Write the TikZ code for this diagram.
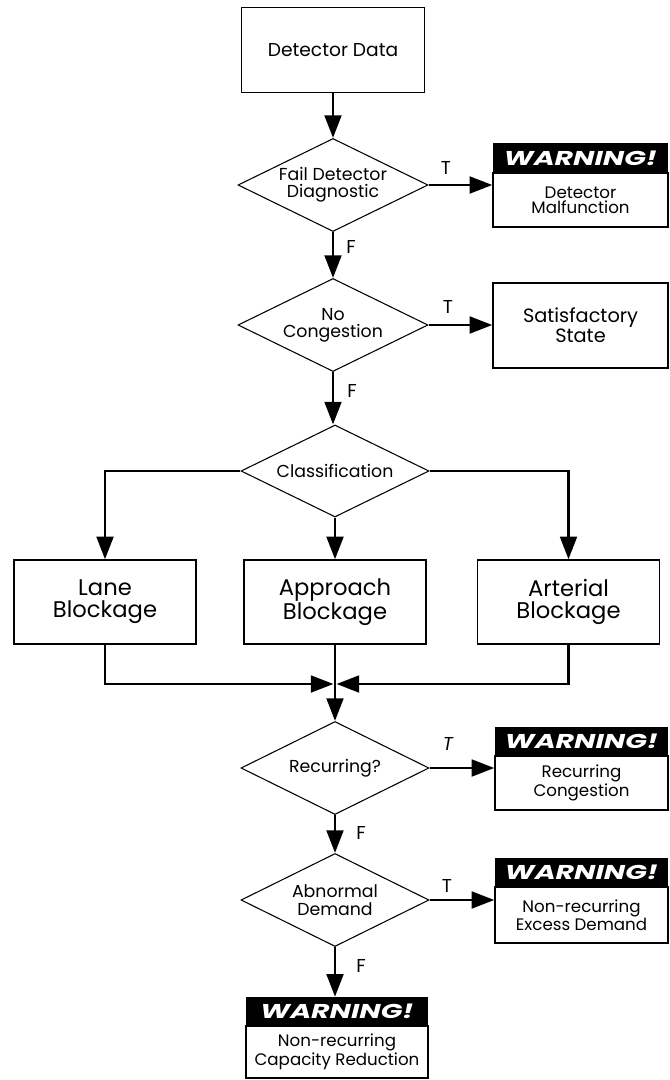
\documentclass[tikz,border=0pt]{standalone}
\usepackage{fontspec}
\setmainfont{Poppins}
\usetikzlibrary{arrows.meta,shapes.geometric,calc}
\newcommand\pxu{0.75pt}
\newcommand\warnword{\scalebox{1.42}[1]{WARNING!}}
\begin{document}
\begin{tikzpicture}[x=0.75pt,y=-0.75pt,
  box/.style={draw, line width=1pt, inner sep=0pt, align=center},
  dia/.style={draw, diamond, line width=0.8pt, inner sep=0pt,
    minimum width=190*\pxu, minimum height=93*\pxu},
  dtext/.style={inner sep=0pt, align=center, font=\fontsize{13}{13}\selectfont},
  arr/.style={line width=2.2pt, -{Triangle[length=17pt,width=12.5pt]}},
  whead/.style={fill=black, text=white, inner sep=0pt, font=\fontsize{15}{16}\selectfont\bfseries\itshape},
  wbody/.style={draw, line width=1pt, inner sep=0pt, align=center, font=\fontsize{12.5}{11.5}\selectfont},
  blk/.style={box, minimum width=182*\pxu, minimum height=84*\pxu, font=\fontsize{17}{16.5}\selectfont},
  lab/.style={font=\fontsize{14}{14}\selectfont, inner sep=0pt}
]
\useasboundingbox (0,0) rectangle (669,1080);

% top
\node[box, minimum width=183*\pxu, minimum height=85*\pxu, font=\fontsize{14}{14}\selectfont] (dd) at (333,50) {Detector Data};
\node[dia] (d1) at (333,185) {};
\node[dtext] (d1t) at (d1) {Fail Detector\\Diagnostic};
\node[whead, minimum width=175*\pxu, minimum height=30*\pxu] (w1h) at (580.5,158) {\warnword};
\node[wbody, minimum width=175*\pxu, minimum height=54*\pxu] (w1b) at (580.5,200) {Detector\\Malfunction};

\node[dia] (d2) at (333,325) {};
\node[dtext] (d2t) at (d2) {No\\Congestion};
\node[box, minimum width=175*\pxu, minimum height=85*\pxu, font=\fontsize{14.5}{15}\selectfont] (sat) at (580.5,325.5) {Satisfactory\\State};

\node[dia, minimum width=188*\pxu, minimum height=92*\pxu] (d3) at (335,471) {};
\node[dtext] (d3t) at (d3) {Classification};

\node[blk] (lane) at (105,602) {Lane\\Blockage};
\node[blk] (appr) at (335,602) {Approach\\Blockage};
\node[blk] (art) at (568.5,602) {Arterial\\Blockage};

\coordinate (ml) at (333.5,684);
\coordinate (mr) at (336.5,684);

\node[dia, minimum width=188*\pxu] (d4) at (335,768) {};
\node[dtext] (d4t) at (d4) {Recurring?};
\node[whead, minimum width=173*\pxu, minimum height=29*\pxu] (w2h) at (581.5,741.5) {\warnword};
\node[wbody, minimum width=173*\pxu, minimum height=54*\pxu] (w2b) at (581.5,783) {Recurring\\Congestion};

\node[dia, minimum width=188*\pxu] (d5) at (335,900) {};
\node[dtext] (d5t) at (d5) {Abnormal\\Demand};
\node[whead, minimum width=173*\pxu, minimum height=29*\pxu] (w3h) at (581.5,872.5) {\warnword};
\node[wbody, minimum width=173*\pxu, minimum height=56*\pxu] (w3b) at (581.5,915) {Non-recurring\\Excess Demand};

\node[whead, minimum width=182*\pxu, minimum height=29*\pxu] (w4h) at (337,1011.5) {\warnword};
\node[wbody, minimum width=182*\pxu, minimum height=52*\pxu] (w4b) at (337,1052) {Non-recurring\\Capacity Reduction};

% connectors
\draw[arr] (dd) -- (d1);
\draw[arr] (d1.east) -- (d1.east -| w1b.west);
\draw[arr] (d1) -- (d2);
\draw[arr] (d2.east) -- (d2.east -| sat.west);
\draw[arr] (d2.south) -- (d2.south |- d3.north);
\draw[arr] (d3.west) -| (lane.north);
\draw[arr] (d3.east) -| (art.north);
\draw[arr] (d3) -- (appr);
\draw[arr] (lane.south) |- (ml);
\draw[arr] (art.south) |- (mr);
\draw[arr] (appr) -- (d4);
\draw[arr] (d4.east) -- (d4.east -| w2b.west);
\draw[arr] (d4) -- (d5);
\draw[arr] (d5.east) -- (d5.east -| w3b.west);
\draw[arr] (d5.south) -- (d5.south |- w4h.north);

% labels
\node[lab] (t1) at (446,168) {T};
\node[lab] (f1) at (351,247) {F};
\node[lab] (t2) at (448,307) {T};
\node[lab] (f2) at (352,391) {F};
\node[lab, font=\fontsize{14}{14}\selectfont\itshape] (t3) at (448,744) {T};
\node[lab] (f3) at (361,833) {F};
\node[lab] (t4) at (447,886) {T};
\node[lab] (f4) at (361,966) {F};
\end{tikzpicture}
\end{document}
